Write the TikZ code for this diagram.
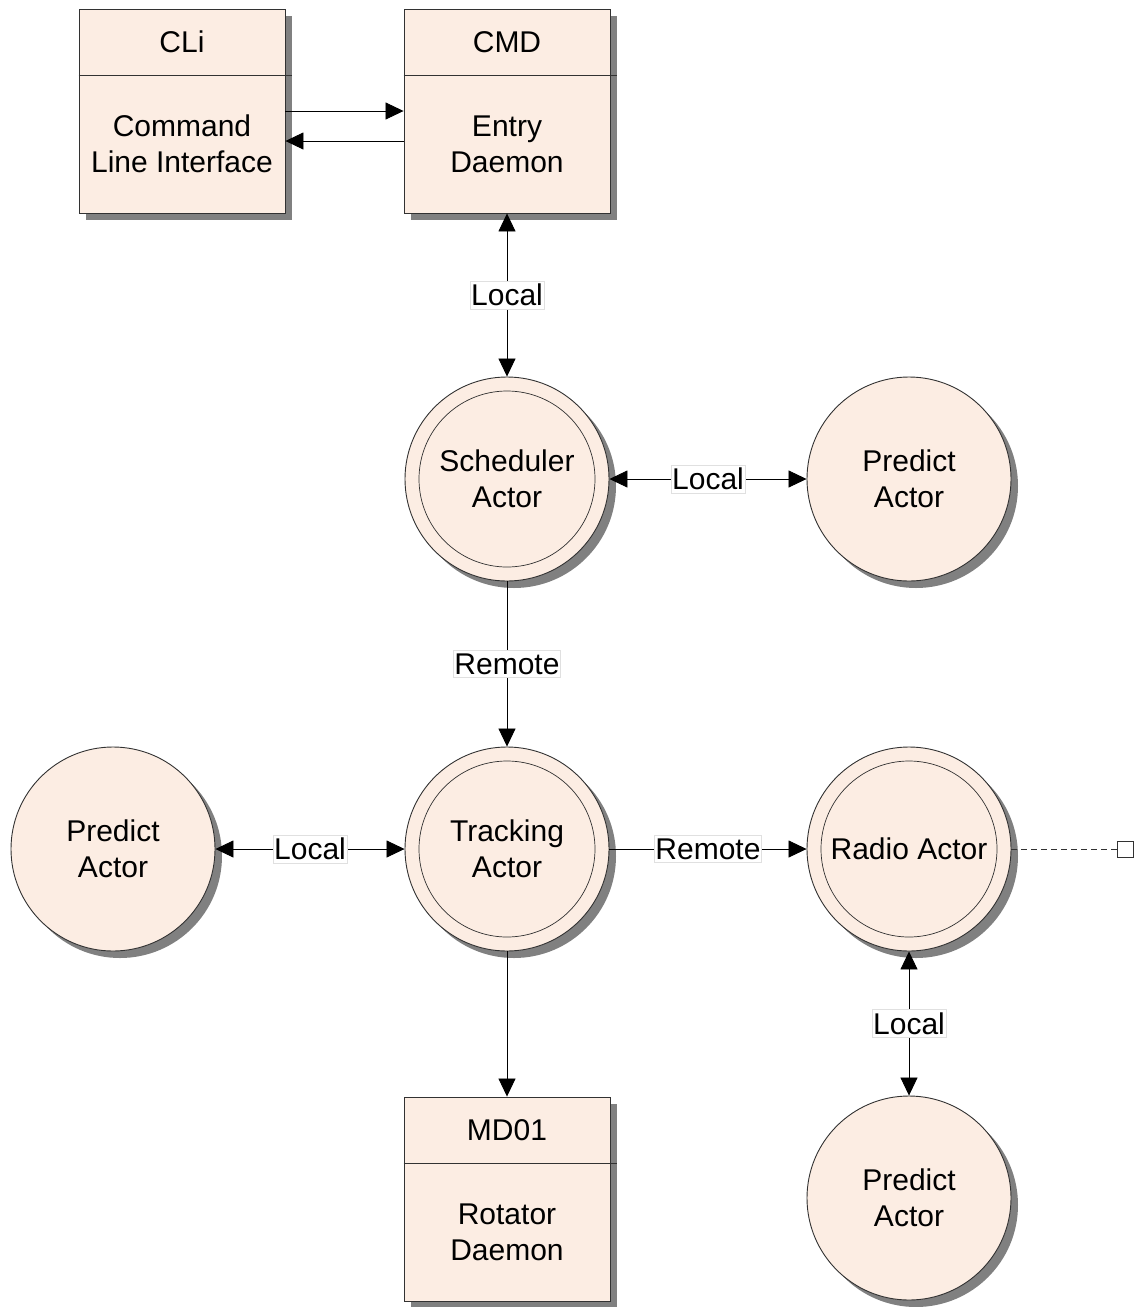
\documentclass[tikz,border=0pt]{standalone}
\usepackage{fontspec}
\setmainfont{Liberation Sans}
\usetikzlibrary{shadows,arrows.meta}
\definecolor{unitfill}{RGB}{252,237,227}
\definecolor{unitline}{RGB}{50,50,50}
\begin{document}
\begin{tikzpicture}[x=1pt,y=-1pt,
  font=\fontsize{30}{36}\selectfont,
  shade/.style={drop shadow={shadow xshift=7pt,shadow yshift=-7pt,fill=black!50,opacity=1}},
  unitbox/.style={draw=unitline,line width=0.9pt,fill=unitfill,shade,
    minimum width=206pt,minimum height=204pt,inner sep=0pt},
  actor/.style={circle,draw=unitline,line width=0.9pt,fill=unitfill,shade,
    minimum size=204pt,inner sep=0pt,align=center},
  core/.style={circle,draw=unitline,line width=0.7pt,minimum size=176pt,inner sep=0pt,align=center},
  txt/.style={align=center,inner sep=0pt},
  arr/.style={line width=0.8pt,-{Triangle[length=18pt,width=17pt]}},
  biarr/.style={line width=0.8pt,{Triangle[length=18pt,width=17pt]}-{Triangle[length=18pt,width=17pt]}},
  lbl/.style={fill=white,draw=black!12,line width=0.6pt,inner xsep=1pt,inner ysep=3pt}]
\useasboundingbox (0,0) rectangle (1135,1307);

% daemon boxes
\node[unitbox] (cli) at (182,111) {};
\node[unitbox] (cmd) at (507,111) {};
\node[unitbox] (md)  at (507,1199) {};
\foreach \b in {cli,cmd,md}
  \draw[unitline,line width=0.8pt] ([yshift=-67pt]\b.north west) -- ([yshift=-67pt,xshift=7pt]\b.north east);

\node[txt] (clititle) at (182,42) {CLi};
\node[txt] (clibody) at (182,144) {Command\\Line Interface};
\node[txt] (cmdtitle) at (507,42) {CMD};
\node[txt] (cmdbody) at (507,144) {Entry\\Daemon};
\node[txt] (mdtitle) at (507,1130) {MD01};
\node[txt] (mdbody) at (507,1232) {Rotator\\Daemon};

% actors
\node[actor] (sched) at (507,479) {};
\node[core] (schedcore) at (507,479) {Scheduler\\Actor};
\node[actor] (predA) at (909,479) {Predict\\Actor};
\node[actor] (track) at (507,849) {};
\node[core] (trackcore) at (507,849) {Tracking\\Actor};
\node[actor] (predB) at (113,849) {Predict\\Actor};
\node[actor] (radio) at (909,849) {};
\node[core] (radiocore) at (909,849) {Radio Actor};
\node[actor] (predC) at (909,1198) {Predict\\Actor};

% connectors
\draw[arr] (cli.east) -- (cmd.west);
\draw[arr] ([yshift=-30pt]cmd.west) -- ([yshift=-30pt]cli.east);
\draw[biarr] (cmd.south) -- node[lbl] (l1) {Local} (sched.north);
\draw[biarr] (sched.east) -- node[lbl] (l2) {Local} (predA.west);
\draw[arr] (sched.south) -- node[lbl] (l3) {Remote} (track.north);
\draw[biarr] (predB.east) -- node[lbl] (l4) {Local} (track.west);
\draw[arr] (track.east) -- node[lbl] (l5) {Remote} (radio.west);
\draw[biarr] (radio.south) -- node[lbl] (l6) {Local} (predC.north);
\draw[arr] (track.south) -- (md.north);

% open port on the radio actor
\node[draw=unitline,fill=white,line width=0.8pt,minimum size=16pt,inner sep=0pt] (port) at (1125,849) {};
\draw[unitline,line width=0.7pt,dash pattern=on 6pt off 4pt] (radio.east) -- (port.west);
\end{tikzpicture}
\end{document}
